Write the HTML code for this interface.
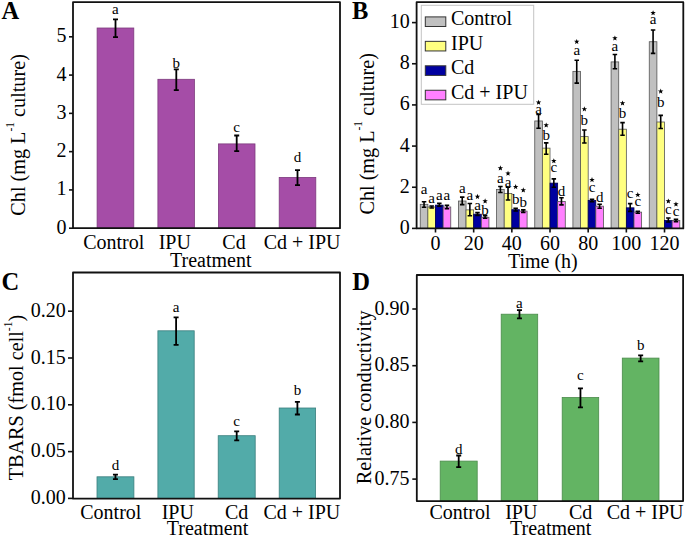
<!DOCTYPE html>
<html><head><meta charset="utf-8"><style>
html,body{margin:0;padding:0;background:#fff;width:685px;height:537px;overflow:hidden}
svg{display:block}
text{font-family:"Liberation Serif", serif;fill:#000}
</style></head><body>
<svg width="685" height="537" viewBox="0 0 685 537">
<text x="1.5" y="18.6" font-size="24.5" text-anchor="start" font-weight="bold" >A</text>
<path d="M69 228.20H73" stroke="#111" stroke-width="1.6"/>
<text x="66.5" y="233.7" font-size="20" text-anchor="end" font-weight="normal" >0</text>
<path d="M69 189.92H73" stroke="#111" stroke-width="1.6"/>
<text x="66.5" y="195.42" font-size="20" text-anchor="end" font-weight="normal" >1</text>
<path d="M69 151.64H73" stroke="#111" stroke-width="1.6"/>
<text x="66.5" y="157.14" font-size="20" text-anchor="end" font-weight="normal" >2</text>
<path d="M69 113.36H73" stroke="#111" stroke-width="1.6"/>
<text x="66.5" y="118.85999999999999" font-size="20" text-anchor="end" font-weight="normal" >3</text>
<path d="M69 75.08H73" stroke="#111" stroke-width="1.6"/>
<text x="66.5" y="80.57999999999998" font-size="20" text-anchor="end" font-weight="normal" >4</text>
<path d="M69 36.80H73" stroke="#111" stroke-width="1.6"/>
<text x="66.5" y="42.29999999999998" font-size="20" text-anchor="end" font-weight="normal" >5</text>
<rect x="97.1" y="28.0" width="36.70000000000002" height="200.2" fill="#A54DA7" stroke="#7d3a7d" stroke-width="0.8"/>
<rect x="157.9" y="79.3" width="36.5" height="148.89999999999998" fill="#A54DA7" stroke="#7d3a7d" stroke-width="0.8"/>
<rect x="218.4" y="143.9" width="36.599999999999994" height="84.29999999999998" fill="#A54DA7" stroke="#7d3a7d" stroke-width="0.8"/>
<rect x="279.2" y="177.4" width="36.60000000000002" height="50.79999999999998" fill="#A54DA7" stroke="#7d3a7d" stroke-width="0.8"/>
<path d="M115.5 19.3V37.2M113.0 19.3H118.0M113.0 37.2H118.0" stroke="#000" stroke-width="1.8" fill="none"/>
<text x="115.45" y="14.0" font-size="15" text-anchor="middle" font-weight="normal" >a</text>
<path d="M176.3 69.4V90.2M173.8 69.4H178.8M173.8 90.2H178.8" stroke="#000" stroke-width="1.8" fill="none"/>
<text x="176.15" y="67.7" font-size="15" text-anchor="middle" font-weight="normal" >b</text>
<path d="M236.7 135.5V151.1M234.2 135.5H239.2M234.2 151.1H239.2" stroke="#000" stroke-width="1.8" fill="none"/>
<text x="236.7" y="131.8" font-size="15" text-anchor="middle" font-weight="normal" >c</text>
<path d="M297.5 170.1V185.2M295.0 170.1H300.0M295.0 185.2H300.0" stroke="#000" stroke-width="1.8" fill="none"/>
<text x="297.5" y="162.0" font-size="15" text-anchor="middle" font-weight="normal" >d</text>
<path d="M73 2.2H340V228.2H73Z" fill="none" stroke="#111" stroke-width="1.8" stroke-linejoin="round"/>
<text x="113.75" y="249.2" font-size="20" text-anchor="middle" font-weight="normal" >Control</text>
<text x="174.75" y="249.2" font-size="20" text-anchor="middle" font-weight="normal" >IPU</text>
<text x="234" y="249.2" font-size="20" text-anchor="middle" font-weight="normal" >Cd</text>
<text x="302.1" y="249.2" font-size="20" text-anchor="middle" font-weight="normal" >Cd + IPU</text>
<text x="210.8" y="267" font-size="20" text-anchor="middle" font-weight="normal" >Treatment</text>
<text transform="translate(25.2 134.9) rotate(-90)" x="0" y="0" text-anchor="middle" style="white-space:pre"><tspan font-size="20.2" dy="0">Chl (mg L</tspan><tspan font-size="11.5" dy="-11.5">-1</tspan><tspan font-size="20.2" dy="11.5"> culture)</tspan></text>
<text x="352" y="18.6" font-size="24.5" text-anchor="start" font-weight="bold" >B</text>
<path d="M412 228.40H416.6" stroke="#111" stroke-width="1.6"/>
<text x="409.8" y="233.9" font-size="20" text-anchor="end" font-weight="normal" >0</text>
<path d="M412 187.24H416.6" stroke="#111" stroke-width="1.6"/>
<text x="409.8" y="192.74" font-size="20" text-anchor="end" font-weight="normal" >2</text>
<path d="M412 146.08H416.6" stroke="#111" stroke-width="1.6"/>
<text x="409.8" y="151.58" font-size="20" text-anchor="end" font-weight="normal" >4</text>
<path d="M412 104.92H416.6" stroke="#111" stroke-width="1.6"/>
<text x="409.8" y="110.42000000000002" font-size="20" text-anchor="end" font-weight="normal" >6</text>
<path d="M412 63.76H416.6" stroke="#111" stroke-width="1.6"/>
<text x="409.8" y="69.26000000000002" font-size="20" text-anchor="end" font-weight="normal" >8</text>
<path d="M412 22.60H416.6" stroke="#111" stroke-width="1.6"/>
<text x="409.8" y="28.100000000000023" font-size="20" text-anchor="end" font-weight="normal" >10</text>
<rect x="420.24" y="204.3214" width="7.6299999999999955" height="24.078599999999994" fill="#C0C0C0" stroke="#555" stroke-width="0.8"/>
<rect x="427.87" y="206.9968" width="7.6299999999999955" height="21.4032" fill="#FFFF80" stroke="#555" stroke-width="0.8"/>
<rect x="435.5" y="205.14460000000003" width="7.6299999999999955" height="23.25539999999998" fill="#0000A0" stroke="#000050" stroke-width="0.8"/>
<rect x="443.13" y="206.9968" width="7.6299999999999955" height="21.4032" fill="#FF80FF" stroke="#555" stroke-width="0.8"/>
<rect x="458.41" y="201.0286" width="7.6299999999999955" height="27.371399999999994" fill="#C0C0C0" stroke="#555" stroke-width="0.8"/>
<rect x="466.04" y="209.87800000000001" width="7.6299999999999955" height="18.52199999999999" fill="#FFFF80" stroke="#555" stroke-width="0.8"/>
<rect x="473.67" y="214.1998" width="7.6299999999999955" height="14.200199999999995" fill="#0000A0" stroke="#000050" stroke-width="0.8"/>
<rect x="481.3" y="217.2868" width="7.6299999999999955" height="11.113200000000006" fill="#FF80FF" stroke="#555" stroke-width="0.8"/>
<rect x="496.58000000000004" y="189.5038" width="7.6299999999999955" height="38.89619999999999" fill="#C0C0C0" stroke="#555" stroke-width="0.8"/>
<rect x="504.21000000000004" y="193.41400000000002" width="7.6299999999999955" height="34.98599999999999" fill="#FFFF80" stroke="#555" stroke-width="0.8"/>
<rect x="511.84000000000003" y="209.6722" width="7.6299999999999955" height="18.727800000000002" fill="#0000A0" stroke="#000050" stroke-width="0.8"/>
<rect x="519.47" y="211.1128" width="7.6299999999999955" height="17.287200000000013" fill="#FF80FF" stroke="#555" stroke-width="0.8"/>
<rect x="534.75" y="120.97240000000002" width="7.6299999999999955" height="107.42759999999998" fill="#C0C0C0" stroke="#555" stroke-width="0.8"/>
<rect x="542.38" y="148.13800000000003" width="7.6299999999999955" height="80.26199999999997" fill="#FFFF80" stroke="#555" stroke-width="0.8"/>
<rect x="550.01" y="183.124" width="7.6299999999999955" height="45.27600000000001" fill="#0000A0" stroke="#000050" stroke-width="0.8"/>
<rect x="557.64" y="201.4402" width="7.6299999999999955" height="26.9598" fill="#FF80FF" stroke="#555" stroke-width="0.8"/>
<rect x="572.9200000000001" y="71.37460000000002" width="7.6299999999999955" height="157.0254" fill="#C0C0C0" stroke="#555" stroke-width="0.8"/>
<rect x="580.5500000000001" y="136.6132" width="7.6299999999999955" height="91.7868" fill="#FFFF80" stroke="#555" stroke-width="0.8"/>
<rect x="588.1800000000001" y="200.4112" width="7.6299999999999955" height="27.988799999999998" fill="#0000A0" stroke="#000050" stroke-width="0.8"/>
<rect x="595.8100000000001" y="206.17360000000002" width="7.6299999999999955" height="22.226399999999984" fill="#FF80FF" stroke="#555" stroke-width="0.8"/>
<rect x="611.09" y="61.90780000000001" width="7.6299999999999955" height="166.4922" fill="#C0C0C0" stroke="#555" stroke-width="0.8"/>
<rect x="618.72" y="129.20440000000002" width="7.6299999999999955" height="99.19559999999998" fill="#FFFF80" stroke="#555" stroke-width="0.8"/>
<rect x="626.35" y="207.82" width="7.6299999999999955" height="20.580000000000013" fill="#0000A0" stroke="#000050" stroke-width="0.8"/>
<rect x="633.98" y="212.14180000000002" width="7.6299999999999955" height="16.258199999999988" fill="#FF80FF" stroke="#555" stroke-width="0.8"/>
<rect x="649.26" y="41.73940000000002" width="7.6299999999999955" height="186.6606" fill="#C0C0C0" stroke="#555" stroke-width="0.8"/>
<rect x="656.89" y="122.00140000000002" width="7.6299999999999955" height="106.39859999999999" fill="#FFFF80" stroke="#555" stroke-width="0.8"/>
<rect x="664.52" y="220.37380000000002" width="7.6299999999999955" height="8.026199999999989" fill="#0000A0" stroke="#000050" stroke-width="0.8"/>
<rect x="672.15" y="220.5796" width="7.6299999999999955" height="7.8204000000000065" fill="#FF80FF" stroke="#555" stroke-width="0.8"/>
<path d="M424.055 201.8V207.3M421.805 201.8H426.305M421.805 207.3H426.305" stroke="#000" stroke-width="1.6" fill="none"/>
<text x="424.055" y="194.0" font-size="15" text-anchor="middle" font-weight="normal" >a</text>
<path d="M431.685 206.0V208.0M429.435 206.0H433.935M429.435 208.0H433.935" stroke="#000" stroke-width="1.6" fill="none"/>
<text x="431.685" y="202.7" font-size="15" text-anchor="middle" font-weight="normal" >a</text>
<path d="M439.315 203.4V206.3M437.065 203.4H441.565M437.065 206.3H441.565" stroke="#000" stroke-width="1.6" fill="none"/>
<text x="439.315" y="200.0" font-size="15" text-anchor="middle" font-weight="normal" >a</text>
<path d="M446.945 205.2V208.8M444.695 205.2H449.195M444.695 208.8H449.195" stroke="#000" stroke-width="1.6" fill="none"/>
<text x="446.945" y="200.0" font-size="15" text-anchor="middle" font-weight="normal" >a</text>
<path d="M462.225 197.1V204.6M459.975 197.1H464.475M459.975 204.6H464.475" stroke="#000" stroke-width="1.6" fill="none"/>
<text x="462.225" y="192.7" font-size="15" text-anchor="middle" font-weight="normal" >a</text>
<path d="M469.855 203.5V215.7M467.605 203.5H472.105M467.605 215.7H472.105" stroke="#000" stroke-width="1.6" fill="none"/>
<text x="469.855" y="200.1" font-size="15" text-anchor="middle" font-weight="normal" >a</text>
<path d="M477.485 212.6V215.4M475.235 212.6H479.735M475.235 215.4H479.735" stroke="#000" stroke-width="1.6" fill="none"/>
<text x="477.485" y="210.2" font-size="15" text-anchor="middle" font-weight="normal" >a</text>
<polygon points="477.49,193.85 478.19,195.73 480.20,195.82 478.62,197.07 479.16,199.01 477.49,197.90 475.81,199.01 476.35,197.07 474.77,195.82 476.78,195.73" fill="#000"/>
<path d="M485.115 215.6V218.2M482.865 215.6H487.365M482.865 218.2H487.365" stroke="#000" stroke-width="1.6" fill="none"/>
<text x="485.115" y="215.0" font-size="15" text-anchor="middle" font-weight="normal" >b</text>
<polygon points="485.12,198.35 485.82,200.23 487.83,200.32 486.25,201.57 486.79,203.51 485.12,202.40 483.44,203.51 483.98,201.57 482.40,200.32 484.41,200.23" fill="#000"/>
<path d="M500.39500000000004 186.5V192.5M498.14500000000004 186.5H502.64500000000004M498.14500000000004 192.5H502.64500000000004" stroke="#000" stroke-width="1.6" fill="none"/>
<text x="500.39500000000004" y="182.8" font-size="15" text-anchor="middle" font-weight="normal" >a</text>
<polygon points="500.40,165.35 501.10,167.23 503.11,167.32 501.53,168.57 502.07,170.51 500.40,169.40 498.72,170.51 499.26,168.57 497.68,167.32 499.69,167.23" fill="#000"/>
<path d="M508.02500000000003 187.3V200.0M505.77500000000003 187.3H510.27500000000003M505.77500000000003 200.0H510.27500000000003" stroke="#000" stroke-width="1.6" fill="none"/>
<text x="508.02500000000003" y="187.3" font-size="15" text-anchor="middle" font-weight="normal" >a</text>
<polygon points="508.03,170.65 508.73,172.53 510.74,172.62 509.16,173.87 509.70,175.81 508.03,174.70 506.35,175.81 506.89,173.87 505.31,172.62 507.32,172.53" fill="#000"/>
<path d="M515.6550000000001 208.2V211.0M513.4050000000001 208.2H517.9050000000001M513.4050000000001 211.0H517.9050000000001" stroke="#000" stroke-width="1.6" fill="none"/>
<text x="515.6550000000001" y="203.7" font-size="15" text-anchor="middle" font-weight="normal" >b</text>
<polygon points="515.66,184.05 516.36,185.93 518.37,186.02 516.79,187.27 517.33,189.21 515.66,188.10 513.98,189.21 514.52,187.27 512.94,186.02 514.95,185.93" fill="#000"/>
<path d="M523.2850000000001 209.9V212.4M521.0350000000001 209.9H525.5350000000001M521.0350000000001 212.4H525.5350000000001" stroke="#000" stroke-width="1.6" fill="none"/>
<text x="523.2850000000001" y="206.6" font-size="15" text-anchor="middle" font-weight="normal" >b</text>
<polygon points="523.29,187.35 523.99,189.23 526.00,189.32 524.42,190.57 524.96,192.51 523.29,191.40 521.61,192.51 522.15,190.57 520.57,189.32 522.58,189.23" fill="#000"/>
<path d="M538.565 114.5V128.2M536.315 114.5H540.815M536.315 128.2H540.815" stroke="#000" stroke-width="1.6" fill="none"/>
<text x="538.565" y="113.9" font-size="15" text-anchor="middle" font-weight="normal" >a</text>
<polygon points="538.57,99.65 539.27,101.53 541.28,101.62 539.70,102.87 540.24,104.81 538.57,103.70 536.89,104.81 537.43,102.87 535.85,101.62 537.86,101.53" fill="#000"/>
<path d="M546.195 142.9V154.2M543.945 142.9H548.445M543.945 154.2H548.445" stroke="#000" stroke-width="1.6" fill="none"/>
<text x="546.195" y="140.0" font-size="15" text-anchor="middle" font-weight="normal" >b</text>
<polygon points="546.20,122.40 546.90,124.28 548.91,124.37 547.33,125.62 547.87,127.56 546.20,126.45 544.52,127.56 545.06,125.62 543.48,124.37 545.49,124.28" fill="#000"/>
<path d="M553.825 178.9V187.3M551.575 178.9H556.075M551.575 187.3H556.075" stroke="#000" stroke-width="1.6" fill="none"/>
<text x="553.825" y="172.4" font-size="15" text-anchor="middle" font-weight="normal" >c</text>
<polygon points="553.83,158.15 554.53,160.03 556.54,160.12 554.96,161.37 555.50,163.31 553.83,162.20 552.15,163.31 552.69,161.37 551.11,160.12 553.12,160.03" fill="#000"/>
<path d="M561.455 197.8V204.9M559.205 197.8H563.705M559.205 204.9H563.705" stroke="#000" stroke-width="1.6" fill="none"/>
<text x="561.455" y="195.8" font-size="15" text-anchor="middle" font-weight="normal" >d</text>
<path d="M576.7350000000001 60.2V83.1M574.4850000000001 60.2H578.9850000000001M574.4850000000001 83.1H578.9850000000001" stroke="#000" stroke-width="1.6" fill="none"/>
<text x="576.7350000000001" y="54.7" font-size="15" text-anchor="middle" font-weight="normal" >a</text>
<polygon points="576.74,38.90 577.44,40.78 579.45,40.87 577.87,42.12 578.41,44.06 576.74,42.95 575.06,44.06 575.60,42.12 574.02,40.87 576.03,40.78" fill="#000"/>
<path d="M584.3650000000001 130.0V143.0M582.1150000000001 130.0H586.6150000000001M582.1150000000001 143.0H586.6150000000001" stroke="#000" stroke-width="1.6" fill="none"/>
<text x="584.3650000000001" y="125.4" font-size="15" text-anchor="middle" font-weight="normal" >b</text>
<polygon points="584.37,106.25 585.07,108.13 587.08,108.22 585.50,109.47 586.04,111.41 584.37,110.30 582.69,111.41 583.23,109.47 581.65,108.22 583.66,108.13" fill="#000"/>
<path d="M591.9950000000001 199.2V201.8M589.7450000000001 199.2H594.2450000000001M589.7450000000001 201.8H594.2450000000001" stroke="#000" stroke-width="1.6" fill="none"/>
<text x="591.9950000000001" y="191.9" font-size="15" text-anchor="middle" font-weight="normal" >c</text>
<polygon points="592.00,177.05 592.70,178.93 594.71,179.02 593.13,180.27 593.67,182.21 592.00,181.10 590.32,182.21 590.86,180.27 589.28,179.02 591.29,178.93" fill="#000"/>
<path d="M599.6250000000001 204.3V208.2M597.3750000000001 204.3H601.8750000000001M597.3750000000001 208.2H601.8750000000001" stroke="#000" stroke-width="1.6" fill="none"/>
<text x="599.6250000000001" y="201.7" font-size="15" text-anchor="middle" font-weight="normal" >d</text>
<path d="M614.9050000000001 54.5V68.8M612.6550000000001 54.5H617.1550000000001M612.6550000000001 68.8H617.1550000000001" stroke="#000" stroke-width="1.6" fill="none"/>
<text x="614.9050000000001" y="50.6" font-size="15" text-anchor="middle" font-weight="normal" >a</text>
<polygon points="614.91,35.40 615.61,37.28 617.62,37.37 616.04,38.62 616.58,40.56 614.91,39.45 613.23,40.56 613.77,38.62 612.19,37.37 614.20,37.28" fill="#000"/>
<path d="M622.5350000000001 122.6V135.3M620.2850000000001 122.6H624.7850000000001M620.2850000000001 135.3H624.7850000000001" stroke="#000" stroke-width="1.6" fill="none"/>
<text x="622.5350000000001" y="118.0" font-size="15" text-anchor="middle" font-weight="normal" >b</text>
<polygon points="622.54,100.40 623.24,102.28 625.25,102.37 623.67,103.62 624.21,105.56 622.54,104.45 620.86,105.56 621.40,103.62 619.82,102.37 621.83,102.28" fill="#000"/>
<path d="M630.1650000000001 203.6V211.4M627.9150000000001 203.6H632.4150000000001M627.9150000000001 211.4H632.4150000000001" stroke="#000" stroke-width="1.6" fill="none"/>
<text x="630.1650000000001" y="197.8" font-size="15" text-anchor="middle" font-weight="normal" >c</text>
<path d="M637.7950000000001 211.2V213.2M635.5450000000001 211.2H640.0450000000001M635.5450000000001 213.2H640.0450000000001" stroke="#000" stroke-width="1.6" fill="none"/>
<text x="637.7950000000001" y="205.6" font-size="15" text-anchor="middle" font-weight="normal" >c</text>
<polygon points="637.80,192.00 638.50,193.88 640.51,193.97 638.93,195.22 639.47,197.16 637.80,196.05 636.12,197.16 636.66,195.22 635.08,193.97 637.09,193.88" fill="#000"/>
<path d="M653.075 30.0V53.4M650.825 30.0H655.325M650.825 53.4H655.325" stroke="#000" stroke-width="1.6" fill="none"/>
<text x="653.075" y="23.5" font-size="15" text-anchor="middle" font-weight="normal" >a</text>
<polygon points="653.08,10.15 653.78,12.03 655.79,12.12 654.21,13.37 654.75,15.31 653.08,14.20 651.40,15.31 651.94,13.37 650.36,12.12 652.37,12.03" fill="#000"/>
<path d="M660.705 115.4V128.5M658.455 115.4H662.955M658.455 128.5H662.955" stroke="#000" stroke-width="1.6" fill="none"/>
<text x="660.705" y="107.4" font-size="15" text-anchor="middle" font-weight="normal" >b</text>
<polygon points="660.71,88.55 661.41,90.43 663.42,90.52 661.84,91.77 662.38,93.71 660.71,92.60 659.03,93.71 659.57,91.77 657.99,90.52 660.00,90.43" fill="#000"/>
<path d="M668.335 218.0V222.0M666.085 218.0H670.585M666.085 222.0H670.585" stroke="#000" stroke-width="1.6" fill="none"/>
<text x="668.335" y="214.0" font-size="15" text-anchor="middle" font-weight="normal" >c</text>
<polygon points="668.34,198.40 669.04,200.28 671.05,200.37 669.47,201.62 670.01,203.56 668.34,202.45 666.66,203.56 667.20,201.62 665.62,200.37 667.63,200.28" fill="#000"/>
<path d="M675.965 219.3V221.6M673.715 219.3H678.215M673.715 221.6H678.215" stroke="#000" stroke-width="1.6" fill="none"/>
<text x="675.965" y="216.0" font-size="15" text-anchor="middle" font-weight="normal" >c</text>
<polygon points="675.97,201.40 676.67,203.28 678.68,203.37 677.10,204.62 677.64,206.56 675.97,205.45 674.29,206.56 674.83,204.62 673.25,203.37 675.26,203.28" fill="#000"/>
<path d="M416.6 2.2H683.3V228.4H416.6Z" fill="none" stroke="#111" stroke-width="1.8" stroke-linejoin="round"/>
<path d="M435.50 228.4V232.5" stroke="#111" stroke-width="1.6"/>
<text x="435.5" y="250.0" font-size="20" text-anchor="middle" font-weight="normal" >0</text>
<path d="M473.67 228.4V232.5" stroke="#111" stroke-width="1.6"/>
<text x="473.67" y="250.0" font-size="20" text-anchor="middle" font-weight="normal" >20</text>
<path d="M511.84 228.4V232.5" stroke="#111" stroke-width="1.6"/>
<text x="511.84000000000003" y="250.0" font-size="20" text-anchor="middle" font-weight="normal" >40</text>
<path d="M550.01 228.4V232.5" stroke="#111" stroke-width="1.6"/>
<text x="550.01" y="250.0" font-size="20" text-anchor="middle" font-weight="normal" >60</text>
<path d="M588.18 228.4V232.5" stroke="#111" stroke-width="1.6"/>
<text x="588.1800000000001" y="250.0" font-size="20" text-anchor="middle" font-weight="normal" >80</text>
<path d="M626.35 228.4V232.5" stroke="#111" stroke-width="1.6"/>
<text x="626.35" y="250.0" font-size="20" text-anchor="middle" font-weight="normal" >100</text>
<path d="M664.52 228.4V232.5" stroke="#111" stroke-width="1.6"/>
<text x="664.52" y="250.0" font-size="20" text-anchor="middle" font-weight="normal" >120</text>
<text x="542.8" y="268.3" font-size="20" text-anchor="middle" font-weight="normal" >Time (h)</text>
<text transform="translate(373.6 133.8) rotate(-90)" x="0" y="0" text-anchor="middle" style="white-space:pre"><tspan font-size="20.2" dy="0">Chl (mg L</tspan><tspan font-size="11.5" dy="-11.5">-1</tspan><tspan font-size="20.2" dy="11.5"> culture)</tspan></text>
<rect x="421.3" y="5.3" width="112.4" height="99" fill="#fff" stroke="#c4c4c4" stroke-width="1"/>
<rect x="425.3" y="16.90" width="20.5" height="9.6" fill="#C0C0C0" stroke="#333" stroke-width="1"/>
<text x="451" y="25.3" font-size="20" text-anchor="start" font-weight="normal" >Control</text>
<rect x="425.3" y="41.35" width="20.5" height="9.6" fill="#FFFF80" stroke="#333" stroke-width="1"/>
<text x="451" y="49.75" font-size="20" text-anchor="start" font-weight="normal" >IPU</text>
<rect x="425.3" y="65.80" width="20.5" height="9.6" fill="#0000A0" stroke="#333" stroke-width="1"/>
<text x="451" y="74.2" font-size="20" text-anchor="start" font-weight="normal" >Cd</text>
<rect x="425.3" y="90.25" width="20.5" height="9.6" fill="#FF80FF" stroke="#333" stroke-width="1"/>
<text x="451" y="98.64999999999999" font-size="20" text-anchor="start" font-weight="normal" >Cd + IPU</text>
<text x="1.5" y="290.3" font-size="24.5" text-anchor="start" font-weight="bold" >C</text>
<path d="M68 498.40H73" stroke="#111" stroke-width="1.6"/>
<text x="65.8" y="503.9" font-size="20" text-anchor="end" font-weight="normal" >0.00</text>
<path d="M68 451.60H73" stroke="#111" stroke-width="1.6"/>
<text x="65.8" y="457.09999999999997" font-size="20" text-anchor="end" font-weight="normal" >0.05</text>
<path d="M68 404.80H73" stroke="#111" stroke-width="1.6"/>
<text x="65.8" y="410.29999999999995" font-size="20" text-anchor="end" font-weight="normal" >0.10</text>
<path d="M68 358.00H73" stroke="#111" stroke-width="1.6"/>
<text x="65.8" y="363.5" font-size="20" text-anchor="end" font-weight="normal" >0.15</text>
<path d="M68 311.20H73" stroke="#111" stroke-width="1.6"/>
<text x="65.8" y="316.69999999999993" font-size="20" text-anchor="end" font-weight="normal" >0.20</text>
<rect x="97.0" y="476.8" width="36.900000000000006" height="21.599999999999966" fill="#52ABA9" stroke="#3b7f7e" stroke-width="0.8"/>
<rect x="157.9" y="330.8" width="36.29999999999998" height="167.59999999999997" fill="#52ABA9" stroke="#3b7f7e" stroke-width="0.8"/>
<rect x="218.2" y="435.7" width="37.0" height="62.69999999999999" fill="#52ABA9" stroke="#3b7f7e" stroke-width="0.8"/>
<rect x="279.2" y="408.0" width="36.400000000000034" height="90.39999999999998" fill="#52ABA9" stroke="#3b7f7e" stroke-width="0.8"/>
<path d="M115.45 474.6V479.2M112.95 474.6H117.95M112.95 479.2H117.95" stroke="#000" stroke-width="1.8" fill="none"/>
<text x="115.45" y="470.4" font-size="15" text-anchor="middle" font-weight="normal" >d</text>
<path d="M176.1 317.3V344.8M173.6 317.3H178.6M173.6 344.8H178.6" stroke="#000" stroke-width="1.8" fill="none"/>
<text x="176.05" y="312.2" font-size="15" text-anchor="middle" font-weight="normal" >a</text>
<path d="M236.7 431.3V440.4M234.2 431.3H239.2M234.2 440.4H239.2" stroke="#000" stroke-width="1.8" fill="none"/>
<text x="236.7" y="425.5" font-size="15" text-anchor="middle" font-weight="normal" >c</text>
<path d="M297.4 401.9V414.5M294.9 401.9H299.9M294.9 414.5H299.9" stroke="#000" stroke-width="1.8" fill="none"/>
<text x="297.4" y="395.4" font-size="15" text-anchor="middle" font-weight="normal" >b</text>
<path d="M73 272.5H340V498.6H73Z" fill="none" stroke="#111" stroke-width="1.8" stroke-linejoin="round"/>
<text x="110.85" y="518.6" font-size="20" text-anchor="middle" font-weight="normal" >Control</text>
<text x="177.8" y="518.6" font-size="20" text-anchor="middle" font-weight="normal" >IPU</text>
<text x="236.65" y="518.6" font-size="20" text-anchor="middle" font-weight="normal" >Cd</text>
<text x="301.9" y="518.6" font-size="20" text-anchor="middle" font-weight="normal" >Cd + IPU</text>
<text x="207.5" y="535" font-size="20" text-anchor="middle" font-weight="normal" >Treatment</text>
<text transform="translate(22.8 397.6) rotate(-90)" x="0" y="0" text-anchor="middle" style="white-space:pre"><tspan font-size="20.2" dy="0">TBARS (fmol cell</tspan><tspan font-size="11.5" dy="-11">-1</tspan><tspan font-size="20" dy="11">)</tspan></text>
<text x="352.2" y="289.6" font-size="24.5" text-anchor="start" font-weight="bold" >D</text>
<path d="M412.3 479.10H416.8" stroke="#111" stroke-width="1.6"/>
<text x="409.5" y="484.6" font-size="20" text-anchor="end" font-weight="normal" >0.75</text>
<path d="M412.3 422.40H416.8" stroke="#111" stroke-width="1.6"/>
<text x="409.5" y="427.9" font-size="20" text-anchor="end" font-weight="normal" >0.80</text>
<path d="M412.3 365.70H416.8" stroke="#111" stroke-width="1.6"/>
<text x="409.5" y="371.20000000000005" font-size="20" text-anchor="end" font-weight="normal" >0.85</text>
<path d="M412.3 309.00H416.8" stroke="#111" stroke-width="1.6"/>
<text x="409.5" y="314.5" font-size="20" text-anchor="end" font-weight="normal" >0.90</text>
<rect x="440.2" y="461.1" width="37.0" height="40.0" fill="#63B463" stroke="#4a8a4a" stroke-width="0.8"/>
<rect x="501.2" y="314.2" width="36.50000000000006" height="186.90000000000003" fill="#63B463" stroke="#4a8a4a" stroke-width="0.8"/>
<rect x="562.2" y="397.5" width="36.5" height="103.60000000000002" fill="#63B463" stroke="#4a8a4a" stroke-width="0.8"/>
<rect x="622.3" y="358.1" width="36.700000000000045" height="143.0" fill="#63B463" stroke="#4a8a4a" stroke-width="0.8"/>
<path d="M458.7 455.5V467.2M456.2 455.5H461.2M456.2 467.2H461.2" stroke="#000" stroke-width="1.8" fill="none"/>
<text x="458.7" y="453.8" font-size="15" text-anchor="middle" font-weight="normal" >d</text>
<path d="M519.45 310.1V318.3M516.95 310.1H521.95M516.95 318.3H521.95" stroke="#000" stroke-width="1.8" fill="none"/>
<text x="519.45" y="307.7" font-size="15" text-anchor="middle" font-weight="normal" >a</text>
<path d="M580.45 388.3V407.4M577.95 388.3H582.95M577.95 407.4H582.95" stroke="#000" stroke-width="1.8" fill="none"/>
<text x="580.45" y="380.4" font-size="15" text-anchor="middle" font-weight="normal" >c</text>
<path d="M640.65 355.4V361.3M638.15 355.4H643.15M638.15 361.3H643.15" stroke="#000" stroke-width="1.8" fill="none"/>
<text x="640.65" y="350.3" font-size="15" text-anchor="middle" font-weight="normal" >b</text>
<path d="M416.8 275H683.1V501.1H416.8Z" fill="none" stroke="#111" stroke-width="1.8" stroke-linejoin="round"/>
<text x="459.95" y="518.6" font-size="20" text-anchor="middle" font-weight="normal" >Control</text>
<text x="521.3" y="518.6" font-size="20" text-anchor="middle" font-weight="normal" >IPU</text>
<text x="580.55" y="518.6" font-size="20" text-anchor="middle" font-weight="normal" >Cd</text>
<text x="645.15" y="518.6" font-size="20" text-anchor="middle" font-weight="normal" >Cd + IPU</text>
<text x="550.7" y="535" font-size="20" text-anchor="middle" font-weight="normal" >Treatment</text>
<text transform="translate(371 397.3) rotate(-90)" x="0" y="0" text-anchor="middle" style="white-space:pre"><tspan font-size="20.25" dy="0">Relative conductivity</tspan></text>
</svg>
</body></html>
